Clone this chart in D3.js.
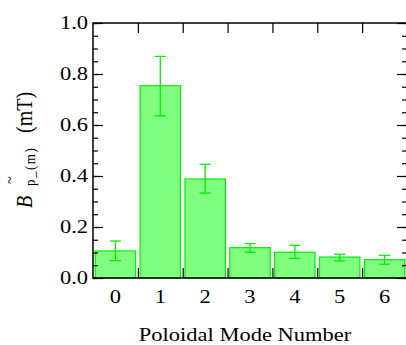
<!DOCTYPE html>
<html>
<head>
  <meta charset="UTF-8">
  <script src="https://d3js.org/d3.v7.min.js"></script>
</head>
<body style="margin:0">
  <script>
    // values
    const modes = ["0", "1", "2", "3", "4", "5", "6"];
    const amplitude = [0.106, 0.754, 0.388, 0.119, 0.101, 0.082, 0.072];
    const errLow = [0.068, 0.636, 0.333, 0.101, 0.077, 0.067, 0.054];
    const errHigh = [0.145, 0.869, 0.446, 0.135, 0.128, 0.093, 0.089];
    const yTicks = [0, 0.2, 0.4, 0.6, 0.8, 1.0];

    const data = modes.map((m, i) => ({ mode: m, value: amplitude[i], lo: errLow[i], hi: errHigh[i] }));

    const margin = { top: 23, right: -1, bottom: 67, left: 93 };
    const W = 406, H = 345;
    const width = W - margin.left - margin.right;
    const height = H - margin.top - margin.bottom;
    const serif = "'Liberation Serif'";
    // text is set at double size and scaled down; the original is also ~25% wide
    const k = 0.5, sx = 1.25 * k;

    const root = d3.select("body")
      .append("svg")
      .attr("width", W)
      .attr("height", H);

    const svg = root.append("g")
      .attr("transform", `translate(${margin.left},${margin.top})`);

    const x = d3.scaleBand()
      .domain(modes)
      .range([0, width])
      .paddingInner(0.1)
      .paddingOuter(0.05);

    // boundaries between categories
    const xEdge = d3.scaleLinear().domain([0, modes.length]).range([0, width]);

    const y = d3.scaleLinear()
      .domain([0, 1])
      .range([height, 0]);

    // bottom ticks between bars (drawn first so bars sit on top)
    svg.append("g")
      .attr("transform", `translate(0,${height})`)
      .call(d3.axisBottom(xEdge).tickValues(d3.range(1, modes.length)).tickSize(-10).tickFormat(""))
      .call(g => g.select(".domain").remove());

    // bars
    svg.selectAll(".bar")
      .data(data)
      .enter().append("rect")
      .attr("class", "bar")
      .attr("x", d => x(d.mode))
      .attr("y", d => y(d.value))
      .attr("width", x.bandwidth())
      .attr("height", d => height - y(d.value))
      .attr("fill", "#80ff80")
      .attr("stroke", "#00ee00")
      .attr("stroke-width", 1.2);

    // error bars
    const err = svg.selectAll(".err")
      .data(data)
      .enter().append("g")
      .attr("class", "err")
      .attr("stroke", "#00ee00")
      .attr("stroke-width", 1.3);

    err.append("line")
      .attr("x1", d => x(d.mode) + x.bandwidth() / 2)
      .attr("x2", d => x(d.mode) + x.bandwidth() / 2)
      .attr("y1", d => y(d.lo))
      .attr("y2", d => y(d.hi));

    [d => d.lo, d => d.hi].forEach(f => {
      err.append("line")
        .attr("x1", d => x(d.mode) + x.bandwidth() / 2 - 5.5)
        .attr("x2", d => x(d.mode) + x.bandwidth() / 2 + 5.5)
        .attr("y1", d => y(f(d)))
        .attr("y2", d => y(f(d)));
    });

    // x tick labels
    const xLab = svg.append("g")
      .attr("transform", `translate(0,${height})`)
      .call(d3.axisBottom(x).tickSize(0).tickPadding(12));
    xLab.select(".domain").remove();
    xLab.selectAll("text")
      .attr("y", 12 / k)
      .attr("transform", `scale(${sx},${k})`)
      .attr("font-family", serif)
      .attr("font-size", 36)
      .attr("fill", "#000");

    // top ticks
    svg.append("g")
      .call(d3.axisTop(xEdge).tickValues(d3.range(1, modes.length)).tickSize(-10).tickFormat(""))
      .call(g => g.select(".domain").remove());

    // left axis: major + minor
    const yLab = svg.append("g")
      .call(d3.axisLeft(y).tickValues(yTicks).tickSize(-10).tickPadding(5).tickFormat(d3.format(".1f")));
    yLab.select(".domain").remove();
    yLab.selectAll("text")
      .attr("x", -5 / sx)
      .attr("transform", `scale(${sx},${k})`)
      .attr("font-family", serif)
      .attr("font-size", 36)
      .attr("fill", "#000");

    svg.append("g")
      .call(d3.axisLeft(y).ticks(20).tickSize(-5).tickFormat(""))
      .call(g => g.select(".domain").remove());

    // right axis
    svg.append("g")
      .attr("transform", `translate(${width},0)`)
      .call(d3.axisRight(y).tickValues(yTicks).tickSize(-10).tickFormat(""))
      .call(g => g.select(".domain").remove());

    svg.append("g")
      .attr("transform", `translate(${width},0)`)
      .call(d3.axisRight(y).ticks(20).tickSize(-5).tickFormat(""))
      .call(g => g.select(".domain").remove());

    svg.selectAll(".tick line").attr("stroke", "#000").attr("stroke-width", 1.2);

    // frame
    svg.append("rect")
      .attr("x", 0)
      .attr("y", 0)
      .attr("width", width)
      .attr("height", height)
      .attr("fill", "none")
      .attr("stroke", "#000")
      .attr("stroke-width", 1.5);

    // x axis title
    root.append("text")
      .attr("transform", `translate(245,341) scale(${sx},${k})`)
      .attr("text-anchor", "middle")
      .attr("font-family", serif)
      .attr("font-size", 36)
      .text("Poloidal Mode Number");

    // y axis title: B~ p_(m) (mT), rotated
    const rot = (px, py) => `translate(${px},${py}) scale(1.2,1) rotate(-90) scale(${k})`;

    root.append("text")
      .attr("transform", rot(32, 208))
      .attr("font-family", serif)
      .attr("font-size", 40)
      .attr("font-style", "italic")
      .text("B");

    root.append("text")
      .attr("transform", rot(15, 184))
      .attr("font-family", serif)
      .attr("font-size", 28)
      .text("~");

    root.append("text")
      .attr("transform", rot(35, 186))
      .attr("font-family", serif)
      .attr("font-size", 26)
      .attr("letter-spacing", 3)
      .text("p_(m)");

    root.append("text")
      .attr("transform", rot(32, 133))
      .attr("font-family", serif)
      .attr("font-size", 40)
      .text("(mT)");
  </script>
</body>
</html>
